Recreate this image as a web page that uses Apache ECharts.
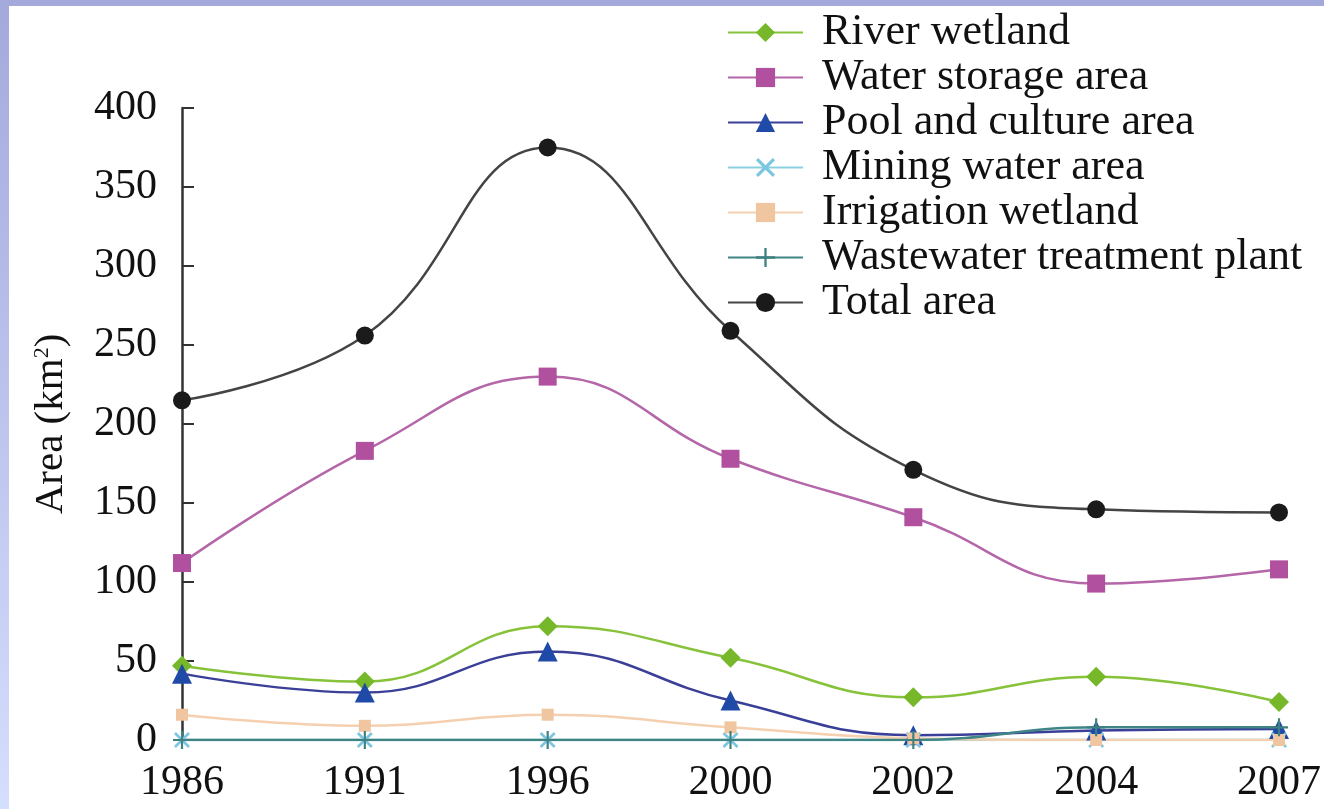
<!DOCTYPE html>
<html>
<head>
<meta charset="utf-8">
<script src="https://cdn.jsdelivr.net/npm/echarts@6/dist/echarts.min.js"></script>
<style>
    html, body { margin: 0; padding: 0; background: #fff; }
    .frame-top { position: absolute; left: 0; top: 0; width: 1324px; height: 6px; background: #a4a9dc; }
    .frame-left { position: absolute; left: 0; top: 0; width: 9px; height: 809px;
        background: linear-gradient(#a4a9dc, #d4defd); }
    #chart { position: absolute; left: 0; top: 0; width: 1324px; height: 809px; }
</style>
</head>
<body>
<div class="frame-top"></div>
<div class="frame-left"></div>
<div id="chart"></div>
<script>
    // years on the x axis
    var years = ['1986', '1991', '1996', '2000', '2002', '2004', '2007'];

    // area values (km2)
    var riverWetland   = [47, 37, 72, 52, 27, 40, 24];
    var waterStorage   = [112, 183, 230, 178, 141, 99, 108];
    var poolCulture    = [42, 30, 56, 25, 3, 6, 7];
    var miningWater    = [0, 0, 0, 0, 0, 0, 0];
    var irrigation     = [16, 9, 16, 8, 1, 0, 0];
    var wastewater     = [0, 0, 0, 0, 0, 8, 8];
    var totalArea      = [215, 256, 375, 259, 171, 146, 144];

    var yTicks = { min: 0, max: 400, interval: 50 };

    var serif = '"Liberation Serif", "DejaVu Serif", serif';

    var crossPath = 'path://M0,1.2 L1.2,0 L10,8.8 L8.8,10 Z M8.8,0 L10,1.2 L1.2,10 L0,8.8 Z';
    var plusPath = 'path://M4.4,0 H5.6 V10 H4.4 Z M0,4.4 H10 V5.6 H0 Z';

    function line(name, data, lineColor, markColor, symbol, size, width) {
        return {
            name: name,
            type: 'line',
            data: data,
            smooth: 0.45,
            symbol: symbol,
            symbolSize: size,
            lineStyle: { color: lineColor, width: width || 2.5 },
            itemStyle: { color: markColor, borderWidth: 0 }
        };
    }

    var chart = echarts.init(document.getElementById('chart'));
    chart.setOption({
        animation: false,
        grid: { left: 182, right: 39, top: 108, bottom: 69, containLabel: false },
        legend: {
            orient: 'vertical',
            left: 722,
            top: 5,
            itemWidth: 75,
            itemHeight: 24,
            itemGap: 0,
            textStyle: { fontFamily: serif, fontSize: 44, color: '#111', padding: [0, 0, 0, 14], lineHeight: 45 },
            data: ['River wetland', 'Water storage area', 'Pool and culture area', 'Mining water area',
                'Irrigation wetland', 'Wastewater treatment plant', 'Total area']
        },
        xAxis: {
            type: 'category',
            data: years,
            boundaryGap: false,
            axisLine: { show: false },
            axisTick: { show: false },
            axisLabel: { fontFamily: serif, fontSize: 42, color: '#111', margin: 22 }
        },
        yAxis: {
            type: 'value',
            min: yTicks.min,
            max: yTicks.max,
            interval: yTicks.interval,
            name: 'Area (km{sup|2})',
            nameLocation: 'middle',
            nameGap: 110,
            nameTextStyle: {
                fontFamily: serif, fontSize: 41, color: '#111',
                rich: { sup: { fontFamily: serif, fontSize: 22, color: '#111', verticalAlign: 'top', padding: [0, 0, 14, 0] } }
            },
            splitLine: { show: false },
            axisLine: { show: true, lineStyle: { color: '#333', width: 2.5 } },
            axisTick: { show: true, inside: true, length: 12, lineStyle: { color: '#333', width: 2 } },
            axisLabel: { fontFamily: serif, fontSize: 42, color: '#111', margin: 25 }
        },
        series: [
            line('River wetland', riverWetland, '#86c23a', '#76b82a', 'diamond', 20),
            line('Water storage area', waterStorage, '#b466a8', '#b0509e', 'rect', 18),
            line('Pool and culture area', poolCulture, '#3a3f98', '#1f4aa8', 'triangle', 20),
            line('Mining water area', miningWater, '#8ccfe0', '#7cc6e0', crossPath, 16),
            line('Irrigation wetland', irrigation, '#f4d0b0', '#f0c6a0', 'rect', 12),
            line('Wastewater treatment plant', wastewater, '#3f8585', '#3f8080', plusPath, 18),
            line('Total area', totalArea, '#444', '#1a1a1a', 'circle', 18)
        ]
    });
</script>
</body>
</html>
